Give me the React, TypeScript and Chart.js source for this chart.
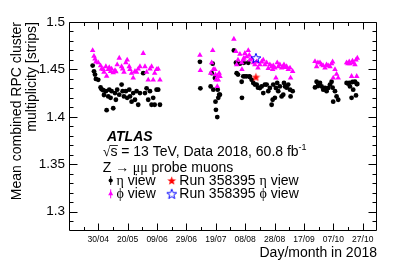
import React, { useEffect, useRef } from "react";
import { Chart, registerables } from "chart.js";

Chart.register(...registerables);

const SANS = '"Liberation Sans", Arial, Helvetica, sans-serif';
const SERIF = '"Liberation Serif", "DejaVu Serif", "Times New Roman", serif';

// Day of year (2018) of each run
const runDays = [
  116.2, 117.1, 117.8, 118.4, 120.0, 121.6, 122.3, 123.4, 123.9, 125.2, 125.7, 126.8, 127.5, 128.4, 129.1,
  130.2, 131.4, 132.0, 132.9, 134.3, 135.9, 136.6, 137.5, 138.8, 139.7, 141.1, 141.6, 142.7, 143.8, 145.0,
  146.1, 147.2, 148.4, 150.6, 151.8, 152.9, 154.0, 155.2, 156.3, 157.4, 158.4, 159.7, 160.8, 162.0,
  189.2, 189.5, 196.5, 197.2, 197.9, 198.3, 199.4, 199.8, 200.1, 201.0, 201.3, 201.7, 202.3, 202.8,
  212.3, 213.7, 214.2, 215.1, 216.4, 217.6, 217.8, 218.7, 219.1, 219.8, 221.0, 222.1, 222.8, 223.2, 224.4,
  225.5, 226.6, 227.8, 228.7, 230.0, 231.2, 232.3, 233.4, 234.6, 235.7, 236.8, 238.0, 238.7, 239.1, 240.2,
  240.9, 241.8, 242.5, 243.6, 244.8, 245.9, 246.4, 247.1, 248.2, 249.3, 250.5, 250.9, 252.3,
  267.5, 268.6, 269.5, 270.9, 272.0, 273.1, 274.3, 275.4, 276.5, 277.7, 278.8, 279.5, 279.9, 281.1, 282.2, 283.3,
  289.0, 289.9, 290.8, 291.3, 292.4, 293.0, 293.5, 294.7, 295.4, 295.9, 296.3,
];

// Mean cluster multiplicity, eta view
const etaMultiplicity = [
  1.454, 1.448, 1.4445, 1.44, 1.439, 1.431, 1.429, 1.428, 1.423, 1.427, 1.407, 1.4215, 1.4286, 1.42, 1.427,
  1.409, 1.425, 1.418, 1.4286, 1.4233, 1.434, 1.427, 1.4215, 1.427, 1.42, 1.4286, 1.4215, 1.416, 1.425, 1.418,
  1.427, 1.4127, 1.425, 1.446, 1.425, 1.43, 1.418, 1.427, 1.4127, 1.42, 1.4127, 1.4286, 1.4286, 1.4127,
  1.458, 1.43, 1.432, 1.446, 1.456, 1.4286, 1.441, 1.416, 1.4074, 1.3997, 1.4286, 1.42, 1.4233, 1.4233,
  1.47, 1.457, 1.446, 1.4445, 1.456, 1.437, 1.42, 1.4427, 1.457, 1.4427, 1.4427, 1.457, 1.4427, 1.442, 1.439,
  1.4357, 1.434, 1.434, 1.4307, 1.4304, 1.432, 1.425, 1.434, 1.434, 1.427, 1.4304, 1.4127, 1.418, 1.434, 1.42,
  1.4304, 1.4357, 1.427, 1.432, 1.4215, 1.4233, 1.4357, 1.432, 1.4307, 1.434, 1.4286, 1.4215, 1.427,
  1.431, 1.437, 1.4325, 1.4357, 1.432, 1.4286, 1.4304, 1.427, 1.4304, 1.434, 1.437, 1.4307, 1.416, 1.427, 1.4215, 1.418,
  1.4357, 1.435, 1.4357, 1.432, 1.42, 1.4367, 1.4286, 1.437, 1.4225, 1.4346, 1.4346,
];

// Mean cluster multiplicity, phi view
const phiMultiplicity = [
  1.47, 1.464, 1.461, 1.458, 1.457, 1.454, 1.4505, 1.45, 1.447, 1.453, 1.443, 1.45, 1.452, 1.448, 1.4505,
  1.4466, 1.449, 1.4476, 1.455, 1.462, 1.453, 1.4505, 1.447, 1.457, 1.46, 1.453, 1.45, 1.446, 1.441, 1.448,
  1.447, 1.4505, 1.453, 1.467, 1.453, 1.447, 1.439, 1.4505, 1.453, 1.439, 1.446, 1.45, 1.4505, 1.439,
  1.465, 1.449, 1.446, 1.457, 1.47, 1.45, 1.45, 1.4445, 1.439, 1.432, 1.4427, 1.439, 1.446, 1.4427,
  1.482, 1.469, 1.455, 1.46, 1.466, 1.457, 1.45, 1.46, 1.462, 1.467, 1.4635, 1.47, 1.465, 1.46, 1.461,
  1.457, 1.455, 1.458, 1.4515, 1.455, 1.458, 1.46, 1.455, 1.457, 1.451, 1.455, 1.453, 1.45, 1.454, 1.4515,
  1.441, 1.457, 1.453, 1.455, 1.4515, 1.453, 1.455, 1.452, 1.453, 1.45, 1.4515, 1.441, 1.448,
  1.4585, 1.453, 1.457, 1.457, 1.455, 1.454, 1.4515, 1.455, 1.454, 1.453, 1.456, 1.458, 1.441, 1.45, 1.445, 1.441,
  1.457, 1.456, 1.458, 1.456, 1.4427, 1.459, 1.457, 1.455, 1.46, 1.4427, 1.462,
];

// Run 358395
const specialRunDay = [227.3];
const specialRunEta = [1.442];
const specialRunPhi = [1.462];

const xTickDays = [120, 140, 160, 180, 200, 220, 240, 260, 280, 300];
const xTickLabels = ["30/04", "20/05", "09/06", "29/06", "19/07", "08/08", "28/08", "17/09", "07/10", "27/10"];
const yTickValues = [1.3, 1.35, 1.4, 1.45, 1.5];
const yTickLabels = ["1.3", "1.35", "1.4", "1.45", "1.5"];

const X_MIN = 100.1;
const X_MAX = 309.7;
const Y_MIN = 1.2806;
const Y_MAX = 1.5;

function makeStar(color: string, filled: boolean, outer: number): HTMLCanvasElement {
  const size = Math.ceil(outer * 2 + 3);
  const c = document.createElement("canvas");
  c.width = size;
  c.height = size;
  const g = c.getContext("2d")!;
  const cx = size / 2;
  const cy = size / 2 + outer * 0.1;
  const inner = outer * 0.42;
  g.beginPath();
  for (let i = 0; i < 10; i++) {
    const r = i % 2 === 0 ? outer : inner;
    const a = -Math.PI / 2 + (i * Math.PI) / 5;
    const px = cx + r * Math.cos(a);
    const py = cy + r * Math.sin(a);
    if (i === 0) g.moveTo(px, py);
    else g.lineTo(px, py);
  }
  g.closePath();
  if (filled) {
    g.fillStyle = color;
    g.fill();
  } else {
    g.strokeStyle = color;
    g.lineWidth = 1;
    g.stroke();
  }
  return c;
}

type TextRun = { t: string; f: string; dy?: number };

function drawRuns(ctx: CanvasRenderingContext2D, x: number, y: number, runs: TextRun[]) {
  let cx = x;
  const pos: number[] = [];
  for (const r of runs) {
    ctx.font = r.f;
    pos.push(cx);
    ctx.fillText(r.t, cx, y + (r.dy || 0));
    cx += ctx.measureText(r.t).width;
  }
  pos.push(cx);
  return pos;
}

export default function App() {
  const ref = useRef<HTMLCanvasElement | null>(null);

  useEffect(() => {
    document.body.style.margin = "0";
    const canvas = ref.current;
    if (!canvas) return;

    const redStar = makeStar("#ff0000", true, 4.6);
    const blueStar = makeStar("#0000ff", false, 5.2);

    const framePlugin = {
      id: "rootFrame",
      afterDatasetsDraw(chart: any) {
        const ctx: CanvasRenderingContext2D = chart.ctx;
        const { left, right, top, bottom } = chart.chartArea;
        const xs = chart.scales.x;
        const ys = chart.scales.y;
        const L = Math.round(left) + 0.5;
        const R = Math.round(right) - 0.5;
        const T = Math.round(top) + 0.5;
        const B = Math.round(bottom) + 0.5;
        ctx.save();
        ctx.strokeStyle = "#000";
        ctx.lineWidth = 1;
        ctx.beginPath();
        ctx.rect(L, T, R - L, B - T);
        for (let k = 129; k <= 150; k++) {
          const v = k / 100;
          if (v < Y_MIN || v > Y_MAX) continue;
          const py = Math.round(ys.getPixelForValue(v)) + 0.5;
          const len = k % 5 === 0 ? 8 : 4;
          ctx.moveTo(L, py);
          ctx.lineTo(L + len, py);
          ctx.moveTo(R, py);
          ctx.lineTo(R - len, py);
        }
        for (let d = 110; d <= 310; d += 10) {
          if (d < X_MIN || d > X_MAX) continue;
          const px = Math.round(xs.getPixelForValue(d)) + 0.5;
          const len = (d - 120) % 20 === 0 ? 7 : 3.5;
          ctx.moveTo(px, B);
          ctx.lineTo(px, B - len);
          ctx.moveTo(px, T);
          ctx.lineTo(px, T + len);
        }
        ctx.stroke();
        ctx.restore();
      },
      afterDraw(chart: any) {
        const ctx: CanvasRenderingContext2D = chart.ctx;
        ctx.save();
        ctx.fillStyle = "#000";
        ctx.textBaseline = "alphabetic";
        ctx.textAlign = "left";
        const f14 = `14px ${SANS}`;
        const s14 = `14px ${SERIF}`;
        drawRuns(ctx, 107, 140.7, [{ t: "ATLAS", f: `italic bold 14px ${SANS}` }]);
        const p = drawRuns(ctx, 102.7, 156, [
          { t: "\u221A", f: s14 },
          { t: "s", f: f14 },
          { t: " = 13 TeV, Data 2018, 60.8 fb", f: f14 },
          { t: "-1", f: `9px ${SANS}`, dy: -6 },
        ]);
        ctx.strokeStyle = "#000";
        ctx.lineWidth = 0.8;
        ctx.beginPath();
        ctx.moveTo(p[1] - 0.5, 145.5);
        ctx.lineTo(p[2] + 0.5, 145.5);
        ctx.stroke();
        drawRuns(ctx, 102.7, 172, [
          { t: "Z ", f: f14 },
          { t: "\u2192", f: s14 },
          { t: " \u03BC\u03BC", f: s14 },
          { t: " probe muons", f: f14 },
        ]);
        const r1 = 185;
        const r2 = 198.3;
        ctx.beginPath();
        ctx.strokeStyle = "#000";
        ctx.lineWidth = 1;
        ctx.moveTo(110.7, r1 - 9);
        ctx.lineTo(110.7, r1);
        ctx.stroke();
        ctx.beginPath();
        ctx.arc(110.7, r1 - 4.5, 2.1, 0, Math.PI * 2);
        ctx.fill();
        drawRuns(ctx, 116.5, r1, [
          { t: "\u03B7", f: s14 },
          { t: " view", f: f14 },
        ]);
        ctx.drawImage(redStar, 171.7 - redStar.width / 2, r1 - 4.5 - redStar.height / 2);
        drawRuns(ctx, 179.3, r1, [
          { t: "Run 358395 ", f: f14 },
          { t: "\u03B7", f: s14 },
          { t: " view", f: f14 },
        ]);
        ctx.beginPath();
        ctx.strokeStyle = "#ff00ff";
        ctx.fillStyle = "#ff00ff";
        ctx.moveTo(110.7, r2 - 9);
        ctx.lineTo(110.7, r2);
        ctx.stroke();
        ctx.beginPath();
        ctx.moveTo(110.7, r2 - 7.5);
        ctx.lineTo(113.2, r2 - 3);
        ctx.lineTo(108.2, r2 - 3);
        ctx.closePath();
        ctx.fill();
        ctx.fillStyle = "#000";
        drawRuns(ctx, 116.5, r2, [
          { t: "\u03D5", f: s14 },
          { t: " view", f: f14 },
        ]);
        ctx.drawImage(blueStar, 171.7 - blueStar.width / 2, r2 - 4.5 - blueStar.height / 2);
        drawRuns(ctx, 179.3, r2, [
          { t: "Run 358395 ", f: f14 },
          { t: "\u03D5", f: s14 },
          { t: " view", f: f14 },
        ]);
        ctx.restore();
      },
    };

    const chart = new Chart(canvas, {
      type: "scatter",
      data: {
        datasets: [
          {
            label: "Run 358395 phi view",
            data: specialRunDay.map((d, i) => ({ x: d, y: specialRunPhi[i] })),
            pointStyle: blueStar as any,
            pointRadius: 5,
          },
          {
            label: "Run 358395 eta view",
            data: specialRunDay.map((d, i) => ({ x: d, y: specialRunEta[i] })),
            pointStyle: redStar as any,
            pointRadius: 5,
          },
          {
            label: "phi view",
            data: runDays.map((d, i) => ({ x: d, y: phiMultiplicity[i] })),
            pointStyle: "triangle",
            pointRadius: 3.2,
            backgroundColor: "#ff00ff",
            borderColor: "#ff00ff",
            borderWidth: 0,
          },
          {
            label: "eta view",
            data: runDays.map((d, i) => ({ x: d, y: etaMultiplicity[i] })),
            pointStyle: "circle",
            pointRadius: 2.4,
            backgroundColor: "#000000",
            borderColor: "#000000",
            borderWidth: 0,
          },
        ],
      },
      options: {
        responsive: false,
        animation: false,
        devicePixelRatio: 1,
        events: [],
        layout: { padding: { top: 22, right: 30, left: 0, bottom: 0 } },
        plugins: { legend: { display: false }, tooltip: { enabled: false } },
        scales: {
          x: {
            type: "linear",
            position: "bottom",
            min: X_MIN,
            max: X_MAX,
            afterBuildTicks: (s: any) => {
              s.ticks = xTickDays.map((v) => ({ value: v }));
            },
            afterFit: (s: any) => {
              s.height = 45;
            },
            grid: { display: false, drawTicks: false },
            border: { display: false },
            ticks: {
              autoSkip: false,
              maxRotation: 0,
              minRotation: 0,
              padding: 5,
              color: "#000",
              font: { family: SANS, size: 8.5 },
              callback: (_v: any, i: number) => xTickLabels[i],
            },
            title: {
              display: true,
              text: "Day/month in 2018",
              align: "end",
              color: "#000",
              font: { family: SANS, size: 14, lineHeight: 1.2 },
              padding: { top: 0, bottom: 13 },
            },
          },
          y: {
            type: "linear",
            position: "left",
            min: Y_MIN,
            max: Y_MAX,
            afterBuildTicks: (s: any) => {
              s.ticks = yTickValues.map((v) => ({ value: v }));
            },
            afterFit: (s: any) => {
              s.width = 69;
            },
            grid: { display: false, drawTicks: false },
            border: { display: false },
            ticks: {
              padding: 4,
              color: "#000",
              font: { family: SANS, size: 13.5 },
              callback: (_v: any, i: number) => yTickLabels[i],
            },
            title: {
              display: true,
              text: ["Mean combined RPC cluster", "multiplicity [strips]"],
              align: "end",
              color: "#000",
              font: { family: SANS, size: 14, lineHeight: 1.07 },
              padding: { top: 9.5, bottom: 0 },
            },
          },
        },
      } as any,
      plugins: [framePlugin],
    });

    return () => {
      chart.destroy();
    };
  }, []);

  return (
    <canvas
      ref={ref}
      width={407}
      height={275}
      style={{ display: "block", width: 407, height: 275, position: "absolute", left: 0, top: 0 }}
    />
  );
}
